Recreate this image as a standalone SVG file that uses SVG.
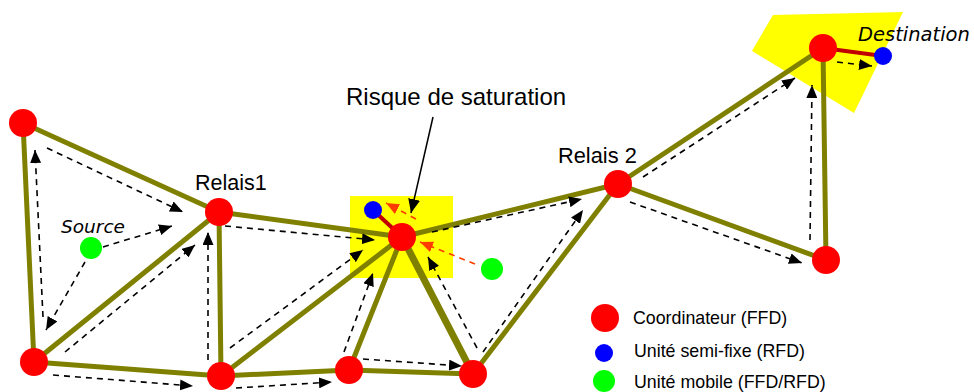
<svg xmlns="http://www.w3.org/2000/svg" width="974" height="392" viewBox="0 0 974 392">
<style>
.edge{stroke:#808000;stroke-width:5;fill:none;stroke-linecap:round}
.dash{stroke:#000;stroke-width:1.6;fill:none;stroke-dasharray:6,5;marker-end:url(#ah)}
.odash{stroke:#ff3c00;stroke-width:1.6;fill:none;stroke-dasharray:6,5;marker-end:url(#ahO)}
.link{stroke:#c00000;stroke-width:4;fill:none}
.coord{fill:#ff0000}
.semi{fill:#0000ff}
.mob{fill:#00ff00}
.lbl{font-family:"Liberation Sans",Arial,sans-serif;fill:#000}
.ital{font-family:"DejaVu Sans",Verdana,sans-serif;font-style:italic;fill:#000}
</style>
<defs>
<marker id="ah" markerUnits="userSpaceOnUse" markerWidth="13" markerHeight="11" refX="13" refY="5.5" orient="auto"><path d="M0,0 L13,5.5 L0,11 z" fill="#000"/></marker>
<marker id="ahO" markerUnits="userSpaceOnUse" markerWidth="13" markerHeight="11" refX="13" refY="5.5" orient="auto"><path d="M0,0 L13,5.5 L0,11 z" fill="#ff3c00"/></marker>
<marker id="ahS" markerUnits="userSpaceOnUse" markerWidth="14" markerHeight="12" refX="14" refY="6" orient="auto"><path d="M0,0 L14,6 L0,12 z" fill="#000"/></marker>
</defs>
<rect width="974" height="392" fill="#fff"/>
<g id="zones">
<rect x="350" y="196" width="103" height="82" fill="#ffff00"/>
<polygon points="773,15 903,12 854,113 752,51" fill="#ffff00"/>
</g>
<g id="connectors">
<line class="edge" x1="23" y1="123" x2="219" y2="212"/>
<line class="edge" x1="23" y1="123" x2="34" y2="362"/>
<line class="edge" x1="34" y1="362" x2="219" y2="212"/>
<line class="edge" x1="34" y1="362" x2="221" y2="376"/>
<line class="edge" x1="219" y1="212" x2="221" y2="376"/>
<line class="edge" x1="219" y1="212" x2="402" y2="237"/>
<line class="edge" x1="221" y1="376" x2="402" y2="237"/>
<line class="edge" x1="221" y1="376" x2="349" y2="370"/>
<line class="edge" x1="349" y1="370" x2="402" y2="237"/>
<line class="edge" x1="349" y1="370" x2="473" y2="374"/>
<line class="edge" x1="473" y1="374" x2="402" y2="237" style="stroke-width:7"/>
<line class="edge" x1="473" y1="374" x2="618" y2="184"/>
<line class="edge" x1="402" y1="237" x2="618" y2="184"/>
<line class="edge" x1="618" y1="184" x2="823" y2="48"/>
<line class="edge" x1="618" y1="184" x2="826" y2="260"/>
<line class="edge" x1="823" y1="48" x2="826" y2="260"/>
<line class="link" x1="373" y1="210" x2="402" y2="237"/>
<line class="link" x1="823" y1="48" x2="883" y2="56"/>
<line class="dash" x1="47" y1="148" x2="183" y2="212"/>
<line class="dash" x1="43" y1="317" x2="35" y2="150"/>
<line class="dash" x1="103" y1="247" x2="172" y2="226"/>
<line class="dash" x1="85" y1="262" x2="46" y2="330"/>
<line class="dash" x1="65" y1="352" x2="195" y2="245"/>
<line class="dash" x1="208" y1="360" x2="208" y2="232"/>
<line class="dash" x1="53" y1="375" x2="193" y2="386"/>
<line class="dash" x1="225" y1="226" x2="375" y2="240"/>
<line class="dash" x1="230" y1="348" x2="363" y2="250"/>
<line class="dash" x1="344" y1="352" x2="373" y2="273"/>
<line class="dash" x1="236" y1="388" x2="332" y2="382"/>
<line class="dash" x1="363" y1="359" x2="462" y2="366"/>
<line class="dash" x1="477" y1="348" x2="428" y2="257"/>
<line class="dash" x1="483" y1="352" x2="583" y2="210"/>
<line class="dash" x1="432" y1="232" x2="582" y2="199"/>
<line class="dash" x1="643" y1="177" x2="795" y2="78"/>
<line class="dash" x1="630" y1="202" x2="802" y2="263"/>
<line class="dash" x1="810" y1="240" x2="812" y2="85"/>
<line class="dash" x1="837" y1="62" x2="872" y2="66"/>
<line class="odash" x1="416" y1="219" x2="386" y2="203"/>
<line class="odash" x1="475" y1="264" x2="420" y2="242"/>
<line x1="433" y1="117" x2="411" y2="213" stroke="#000" stroke-width="1.5" marker-end="url(#ahS)"/>
</g>
<g id="nodeA"><circle class="coord" cx="23" cy="123" r="14"/></g>
<g id="nodeB"><circle class="coord" cx="34" cy="362" r="14"/></g>
<g id="relais1"><circle class="coord" cx="219" cy="212" r="14"/><text class="lbl" x="195" y="190" font-size="21.5">Relais1</text></g>
<g id="nodeC"><circle class="coord" cx="221" cy="376" r="14"/></g>
<g id="nodeD"><circle class="coord" cx="349" cy="370" r="14"/></g>
<g id="nodeE"><circle class="coord" cx="473" cy="374" r="14"/></g>
<g id="nodeM"><circle class="coord" cx="402" cy="237" r="14"/></g>
<g id="relais2"><circle class="coord" cx="618" cy="184" r="14"/><text class="lbl" x="558" y="163" font-size="21.8">Relais 2</text></g>
<g id="nodeF"><circle class="coord" cx="826" cy="260" r="14"/></g>
<g id="nodeG"><circle class="coord" cx="823" cy="48" r="14"/></g>
<g id="semi1"><circle class="semi" cx="373" cy="210" r="9"/></g>
<g id="destination"><circle class="semi" cx="883" cy="56" r="9"/><text class="ital" x="858" y="41" font-size="19.5">Destination</text></g>
<g id="source"><circle class="mob" cx="91" cy="248" r="11"/><text class="ital" x="61" y="233" font-size="18.5">Source</text></g>
<g id="mobile2"><circle class="mob" cx="492" cy="269" r="11"/></g>
<g id="risque"><text class="lbl" x="346" y="105" font-size="24">Risque de saturation</text></g>
<g id="legend">
<circle class="coord" cx="605" cy="318" r="14"/>
<text class="lbl" x="633" y="324" font-size="17.8">Coordinateur (FFD)</text>
<circle class="semi" cx="604" cy="353" r="9"/>
<text class="lbl" x="634" y="357" font-size="17.8">Unité semi-fixe (RFD)</text>
<circle class="mob" cx="604" cy="381" r="11"/>
<text class="lbl" x="634" y="388" font-size="17.8">Unité mobile (FFD/RFD)</text>
</g>
</svg>
